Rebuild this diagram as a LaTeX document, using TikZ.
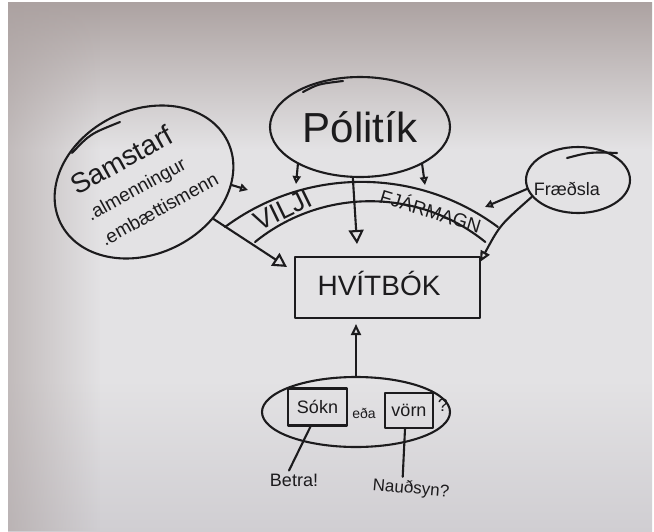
\documentclass[tikz,border=0pt]{standalone}
\usepackage{fontspec}
\setmainfont{Liberation Sans}
\usetikzlibrary{arrows.meta,shapes.geometric,calc,fadings}
\definecolor{ink}{HTML}{1C1B1D}
\definecolor{bgT}{HTML}{ACA2A1}
\definecolor{bgM}{HTML}{E3E2E4}
\definecolor{bgB}{HTML}{D0CED2}
\tikzset{
  inkline/.style={draw=ink, line width=2.1pt, line cap=round, line join=round},
  bubble/.style={inkline, ellipse, inner sep=0pt},
  boxed/.style={inkline, rectangle, inner sep=0pt},
  txt/.style={text=ink, inner sep=0pt},
  smallarrow/.style={inkline, -{Triangle[open,length=8pt,width=8pt]}},
  bigarrow/.style={inkline, -{Triangle[open,length=14pt,width=15pt]}},
}
\begin{document}
\begin{tikzpicture}[x=1pt,y=-1pt]
\useasboundingbox (0,0) rectangle (654,531);
% --- whiteboard background with darker top and left edges
\fill[white] (0,0) rectangle (654,531);
\fill[bgM] (8,2) rectangle (652,531);
\shade[top color=bgT, bottom color=bgM] (8,2) rectangle (652,150);
\shade[top color=bgM, bottom color=bgB] (8,380) rectangle (652,531);
\fill[bgT, path fading=east, fill opacity=0.6] (8,2) rectangle (100,531);

% --- bubbles and boxes
\node[bubble, minimum width=180pt, minimum height=100pt,
      font=\fontsize{42}{46}\selectfont, text=ink] (pol) at (360,127) {Pólitík};
\node[bubble, minimum width=186pt, minimum height=144pt, rotate=26] (sam) at (144,182) {};
\node[bubble, minimum width=104pt, minimum height=66pt] (fra) at (578,180) {};
\node[boxed, minimum width=185pt, minimum height=61pt] (hvit) at (387.5,287.5) {};
\node[bubble, minimum width=188pt, minimum height=70pt] (sq) at (356,412) {};
\node[boxed, minimum width=59pt, minimum height=37pt,
      font=\fontsize{18}{20}\selectfont, text=ink] (sbox) at (317.5,407) {Sókn};
\node[boxed, minimum width=48pt, minimum height=35pt,
      font=\fontsize{18}{20}\selectfont, text=ink] (vbox) at (409,410.5) {vörn};

% --- texts
\node[txt, font=\fontsize{19}{29}\selectfont, rotate=29, anchor=base west] (samt) at (77,196)
  {\begin{tabular}[t]{@{}l@{}}{\fontsize{28}{28}\selectfont Samstarf}\\ .almenningur\\ .embættismenn\end{tabular}};
\node[txt, font=\fontsize{18}{20}\selectfont] (frat) at (567,189) {Fræðsla};
\node[txt, font=\fontsize{28}{30}\selectfont] (hvitt) at (379,283) {HVÍTBÓK};
\node[txt, font=\fontsize{27}{29}\selectfont, rotate=26] (vil) at (283,210) {VILJI};
\node[txt, font=\fontsize{19}{21}\selectfont, rotate=-17] (fja) at (431,210) {FJÁRMAGN};
\node[txt, font=\fontsize{14}{16}\selectfont] (eda) at (364,413) {eða};
\node[txt, font=\fontsize{18}{20}\selectfont] (qm) at (443,405) {?};
\node[txt, font=\fontsize{18}{20}\selectfont] (betra) at (294,480) {Betra!};
\node[txt, font=\fontsize{17}{19}\selectfont, rotate=-5] (naud) at (411,489) {Nauðsyn?};

% --- the band (two arcs)
\coordinate (oL) at (225,227);
\coordinate (iL) at (255,242);
\draw[inkline] (oL) arc[start angle=-126.6, end angle=-53.4, radius=228.9];
\draw[inkline] (iL) arc[start angle=-129, end angle=-51, radius=183];

% --- extra overlapping pen strokes
\draw[inkline] (303,92) .. controls (318,84) .. (343,81);
\draw[inkline] (567,158) .. controls (590,152) .. (617,153);
\draw[inkline] (72,153) .. controls (90,134) .. (120,122);

% --- connectors
\coordinate (vilT) at (296,184);
\coordinate (fjT) at (425,185);
\coordinate (cT) at (357,244);
\coordinate (samT) at (248,190);
\coordinate (fraT) at (485,207);
\draw[smallarrow] (pol.211) -- (vilT);
\draw[smallarrow] (pol.329) -- (fjT);
\draw[bigarrow] (pol.262) -- (cT);
\draw[smallarrow] (sam.332) -- (samT);
\draw[bigarrow] (sam.306) -- ($(hvit.north west)+(-7,11)$);
\draw[smallarrow] (fra.190) -- (fraT);
\draw[inkline, -{Triangle[open,length=11pt,width=10pt]}] (fra.200) .. controls (500,225) .. ($(hvit.north east)+(-1,6)$);
\draw[inkline, -{Triangle[open,length=11pt,width=10pt]}] (sq.north) -- ($(sq.north |- hvit.south)+(0,5)$);
\draw[inkline] ($(sbox.south)+(-7,0)$) -- ($(betra.north)+(-5,-3)$);
\draw[inkline] ($(vbox.south)+(-4,0)$) .. controls (404,450) .. ($(naud.north)+(-9,-4)$);
\end{tikzpicture}
\end{document}
